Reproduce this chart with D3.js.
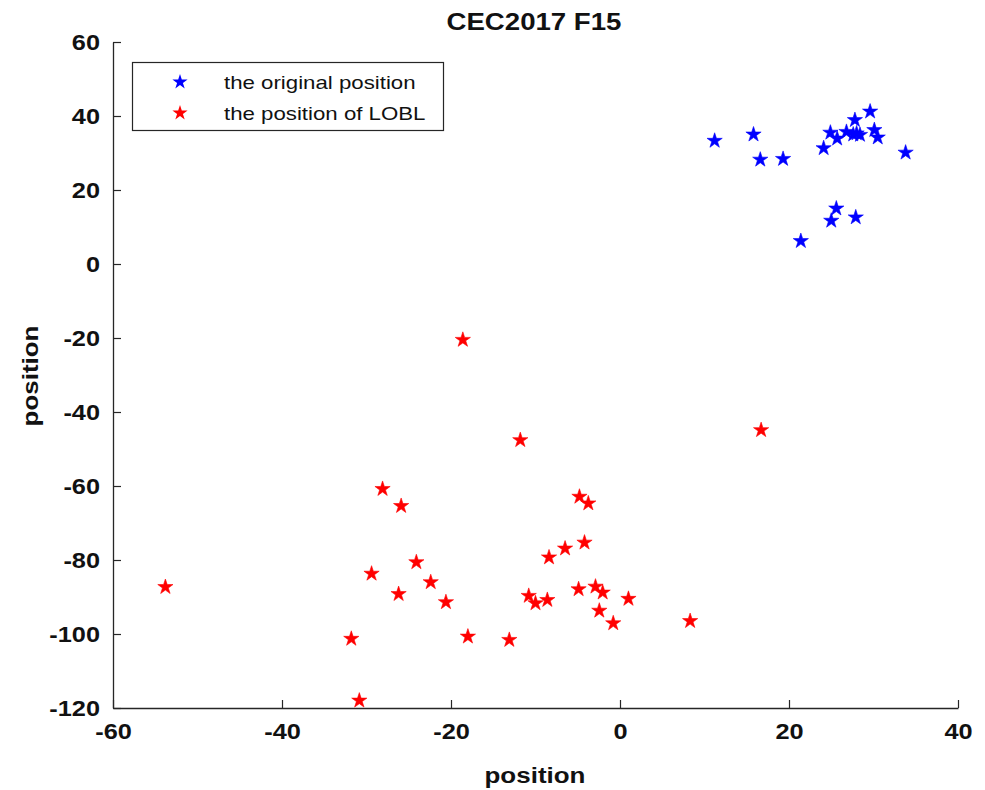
<!DOCTYPE html>
<html><head><meta charset="utf-8">
<script src="https://cdn.jsdelivr.net/npm/d3@7"></script>
<style>body{margin:0;background:#fff}svg{display:block}text{font-family:"Liberation Sans",Arial,sans-serif}</style>
</head><body>
<script>
const title = "CEC2017 F15";
const xTicks = [-60,-40,-20,0,20,40];
const yTicks = [-120,-100,-80,-60,-40,-20,0,20,40,60];
const seriesNames = ["the original position","the position of LOBL"];
const origX = [11.2,15.8,16.6,19.3,24.1,24.9,25.7,26.8,27.6,28.0,27.8,29.6,30.1,30.5,33.8,25.6,25.0,27.9,21.4,28.4];
const origY = [33.3,35.0,28.2,28.4,31.3,35.5,33.9,35.7,35.0,35.3,38.9,41.2,36.2,34.2,30.1,15.0,11.7,12.6,6.2,34.9];
const loblX = [-53.8,-18.6,-11.8,16.7,8.3,-28.1,-25.9,-24.1,-29.4,-22.4,-26.2,-20.6,-31.8,-18.0,-13.1,-30.85,-4.8,-3.75,-4.2,-6.5,-8.4,-10.8,-10.0,-8.6,-4.9,-2.9,-2.05,-2.45,-0.8,1.0];
const loblY = [-87.3,-20.5,-47.6,-44.9,-96.5,-60.8,-65.4,-80.6,-83.7,-86.0,-89.2,-91.4,-101.3,-100.7,-101.6,-118.0,-62.9,-64.7,-75.3,-76.9,-79.3,-89.7,-91.7,-90.8,-87.9,-87.2,-88.8,-93.7,-97.1,-90.5];

const W=985,H=790;
const svg=d3.select("body").append("svg").attr("width",W).attr("height",H);
const x=d3.scaleLinear().domain([-60,40]).range([113,958]);
const y=d3.scaleLinear().domain([-120,60]).range([708,42]);
const axisColor="#262626";
const stretch=(sel,f)=>sel.each(function(){const n=this.getComputedTextLength();d3.select(this).attr("textLength",n*f).attr("lengthAdjust","spacingAndGlyphs");});
const fmt=d=>String(d);

// axes
const gx=svg.append("g").attr("transform","translate(0,708)").call(d3.axisBottom(x).tickValues(xTicks).tickFormat(fmt).tickSizeInner(-8).tickSizeOuter(0).tickPadding(14));
const gy=svg.append("g").attr("transform","translate(113,0)").call(d3.axisLeft(y).tickValues(yTicks).tickFormat(fmt).tickSizeInner(-8).tickSizeOuter(0).tickPadding(13));
[gx,gy].forEach(g=>{g.select(".domain").attr("stroke",axisColor).attr("stroke-width",1.3);g.selectAll(".tick line").attr("stroke",axisColor).attr("stroke-width",1.2);
 g.selectAll(".tick text").attr("fill","#111").attr("font-size",22).attr("font-weight","bold").attr("font-family","Liberation Sans, Arial, sans-serif");});
gx.selectAll(".tick text").attr("dy","0.75em");
gy.selectAll(".tick text").attr("dy","0.35em");
stretch(gx.selectAll(".tick text"),1.15);
stretch(gy.selectAll(".tick text"),1.15);

// title
svg.append("text").attr("x",534).attr("y",30).attr("text-anchor","middle").attr("font-size",24).attr("font-weight","bold").attr("fill","#111").text(title).call(stretch,1.15);
// axis labels
svg.append("text").attr("x",535).attr("y",783).attr("text-anchor","middle").attr("font-size",22).attr("font-weight","bold").attr("fill","#111").text("position").call(stretch,1.18);
svg.append("text").attr("transform","translate(38,376) rotate(-90)").attr("text-anchor","middle").attr("font-size",22).attr("font-weight","bold").attr("fill","#111").text("position").call(stretch,1.18);

// points
const star=d3.symbol().type(d3.symbolStar).size(72);
const orig=origX.map((v,i)=>({x:v,y:origY[i]}));
const lobl=loblX.map((v,i)=>({x:v,y:loblY[i]}));
svg.append("g").selectAll("path").data(orig).join("path").attr("d",star).attr("fill","#0000ff").attr("stroke","#0000ff").attr("stroke-width",0.6).attr("stroke-linejoin","round").attr("transform",d=>`translate(${x(d.x)},${y(d.y)})`);
svg.append("g").selectAll("path").data(lobl).join("path").attr("d",star).attr("fill","#ff0000").attr("stroke","#ff0000").attr("stroke-width",0.6).attr("stroke-linejoin","round").attr("transform",d=>`translate(${x(d.x)},${y(d.y)})`);

// legend
const lg=svg.append("g");
lg.append("rect").attr("x",132.5).attr("y",62.5).attr("width",311).attr("height",68).attr("fill","#fff").attr("stroke",axisColor).attr("stroke-width",1.2);
const colors=["#0000ff","#ff0000"];
seriesNames.forEach((n,i)=>{
 const cy=82+i*31;
 lg.append("path").attr("d",star).attr("fill",colors[i]).attr("transform",`translate(180,${cy})`);
 lg.append("text").attr("x",224).attr("y",cy+7).attr("font-size",19).attr("fill","#111").text(n).call(stretch,1.17);
});
</script>
</body></html>
